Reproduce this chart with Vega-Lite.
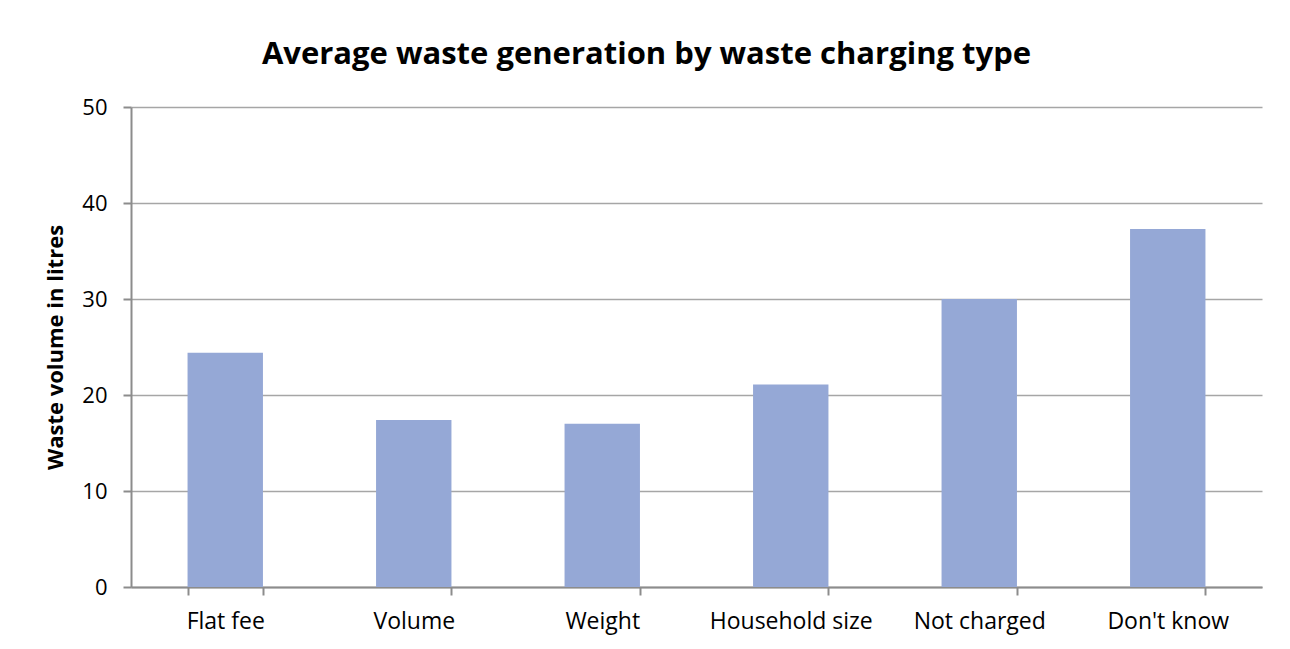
{
  "$schema": "https://vega.github.io/schema/vega-lite/v6.json",
  "width": 1131,
  "height": 480,
  "autosize": "none",
  "padding": {"left": 131, "top": 107, "right": 28, "bottom": 62},
  "background": "white",
  "title": {
    "text": "Average waste generation by waste charging type",
    "anchor": "middle",
    "dx": -50,
    "offset": 1,
    "baseline": "alphabetic",
    "font": "Open Sans",
    "fontSize": 31,
    "fontWeight": "bold",
    "color": "black"
  },
  "config": {
    "view": {"stroke": null},
    "axis": {
      "labelFont": "Open Sans",
      "titleFont": "Open Sans",
      "labelColor": "black",
      "titleColor": "black",
      "domainColor": "#8c8c8c",
      "tickColor": "#8c8c8c",
      "domainWidth": 2,
      "tickWidth": 2
    }
  },
  "data": {
    "values": [
      {"type": "Flat fee", "volume": 24.4},
      {"type": "Volume", "volume": 17.4},
      {"type": "Weight", "volume": 17.0},
      {"type": "Household size", "volume": 21.1},
      {"type": "Not charged", "volume": 30.0},
      {"type": "Don't know", "volume": 37.3}
    ]
  },
  "mark": {"type": "bar", "color": "#95a8d6"},
  "encoding": {
    "x": {
      "field": "type",
      "type": "nominal",
      "sort": null,
      "scale": {"paddingInner": 0.6, "paddingOuter": 0.3},
      "axis": {
        "title": null,
        "labelAngle": 0,
        "labelFontSize": 23,
        "labelPadding": 15,
        "tickBand": "extent",
        "tickSize": 8
      }
    },
    "y": {
      "field": "volume",
      "type": "quantitative",
      "scale": {"domain": [0, 50]},
      "axis": {
        "title": "Waste volume in litres",
        "titleFontSize": 22,
        "titleFontWeight": "bold",
        "titlePadding": 14,
        "values": [0, 10, 20, 30, 40, 50],
        "labelFontSize": 22,
        "labelPadding": 16,
        "tickSize": 8,
        "grid": true,
        "gridColor": "#a6a6a6",
        "gridWidth": 1.5
      }
    }
  }
}
